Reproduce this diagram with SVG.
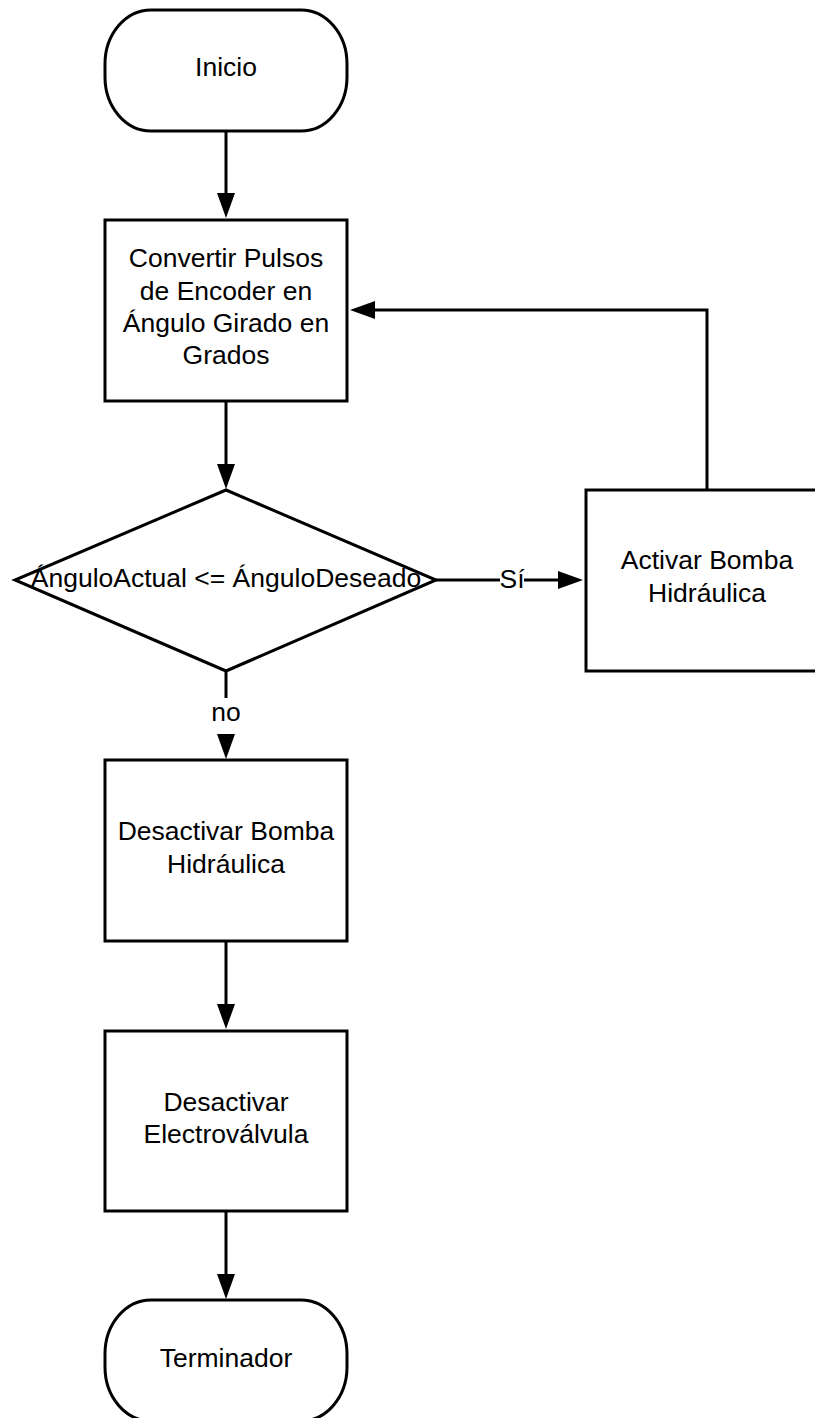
<svg xmlns="http://www.w3.org/2000/svg" width="815" height="1418" viewBox="0 0 815 1418">
  <style>
    .shape { fill: #ffffff; stroke: #000000; stroke-width: 3; }
    .lbl { font-family: "Liberation Sans", Arial, sans-serif; font-size: 26.5px; fill: #000000; text-anchor: middle; }
    .conn { fill: none; stroke: #000000; stroke-width: 3; }
  </style>
  <defs>
    <marker id="arrow" markerUnits="userSpaceOnUse" markerWidth="26" markerHeight="18" refX="15" refY="9" orient="auto">
      <path d="M0,0 L25,9 L0,18 Z" fill="#000000"/>
    </marker>
  </defs>
  <rect width="815" height="1418" fill="#ffffff"/>

  <g id="connectors">
    <line class="conn" x1="226" y1="131" x2="226" y2="208" marker-end="url(#arrow)"/>
    <line class="conn" x1="226" y1="401" x2="226" y2="479" marker-end="url(#arrow)"/>
    <line class="conn" x1="436" y1="580" x2="573" y2="580" marker-end="url(#arrow)"/>
    <line class="conn" x1="226" y1="671" x2="226" y2="749" marker-end="url(#arrow)"/>
    <line class="conn" x1="226" y1="941" x2="226" y2="1019" marker-end="url(#arrow)"/>
    <line class="conn" x1="226" y1="1211" x2="226" y2="1289" marker-end="url(#arrow)"/>
    <path class="conn" d="M707,490 V310 H360" marker-end="url(#arrow)"/>
    <g id="label-si">
      <rect x="500" y="566" width="24" height="28" fill="#ffffff"/>
      <text class="lbl" x="512" y="588">Sí</text>
    </g>
    <g id="label-no">
      <rect x="210" y="698" width="32" height="36" fill="#ffffff"/>
      <text class="lbl" x="226" y="721">no</text>
    </g>
  </g>

  <g id="inicio">
    <rect class="shape" x="105" y="10" width="242" height="121" rx="46" ry="54"/>
    <text class="lbl" x="226" y="76">Inicio</text>
  </g>

  <g id="convertir">
    <rect class="shape" x="105" y="220" width="242" height="181"/>
    <text class="lbl" x="226" y="267">Convertir Pulsos</text>
    <text class="lbl" x="226" y="299.5">de Encoder en</text>
    <text class="lbl" x="226" y="332">Ángulo Girado en</text>
    <text class="lbl" x="226" y="364">Grados</text>
  </g>

  <g id="decision">
    <polygon class="shape" points="226,490 436,580 226,671 15,580"/>
    <text class="lbl" x="226" y="587">ÁnguloActual &lt;= ÁnguloDeseado</text>
  </g>

  <g id="activar">
    <rect class="shape" x="586" y="490" width="242" height="181"/>
    <text class="lbl" x="707" y="569">Activar Bomba</text>
    <text class="lbl" x="707" y="601.5">Hidráulica</text>
  </g>

  <g id="desactivar-bomba">
    <rect class="shape" x="105" y="760" width="242" height="181"/>
    <text class="lbl" x="226" y="840">Desactivar Bomba</text>
    <text class="lbl" x="226" y="872.5">Hidráulica</text>
  </g>

  <g id="desactivar-electrovalvula">
    <rect class="shape" x="105" y="1031" width="242" height="180"/>
    <text class="lbl" x="226" y="1111">Desactivar</text>
    <text class="lbl" x="226" y="1143">Electroválvula</text>
  </g>

  <g id="terminador">
    <rect class="shape" x="105" y="1300" width="242" height="121" rx="46" ry="54"/>
    <text class="lbl" x="226" y="1367">Terminador</text>
  </g>
</svg>
